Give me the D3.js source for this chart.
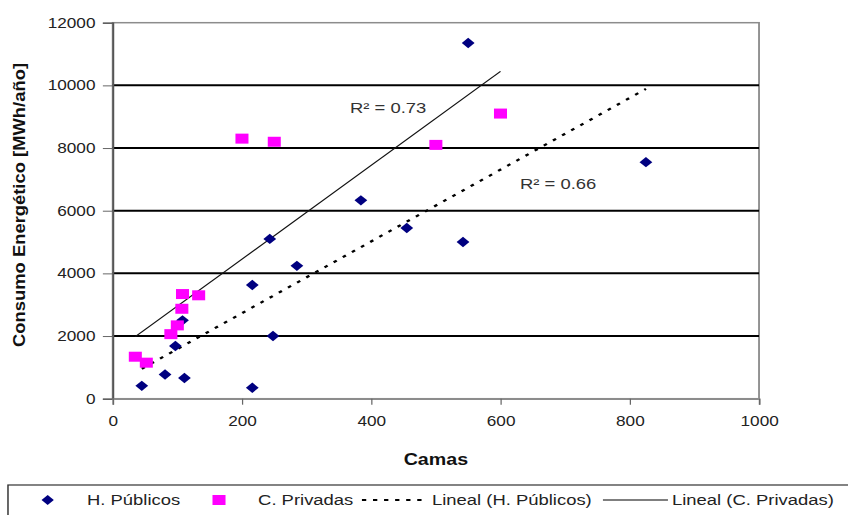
<!DOCTYPE html>
<html>
<head>
<meta charset="utf-8">
<title>Consumo Energético vs Camas</title>
<script src="https://cdn.jsdelivr.net/npm/d3@7/dist/d3.min.js"></script>
<style>
  body { margin: 0; background: #fff; }
  svg { display: block; font-family: "Liberation Sans", Arial, sans-serif; }
</style>
</head>
<body>
<script>
// H. Públicos (diamonds)
var camasPublicos   = [550, 384, 243, 455, 542, 285, 216, 108, 248, 97, 81, 111, 45, 216, 825];
var consumoPublicos = [11350, 6330, 5100, 5450, 5000, 4240, 3630, 2500, 2000, 1680, 770, 660, 410, 350, 7550];
// C. Privadas (squares)
var camasPrivadas   = [200, 250, 500, 600, 108, 133, 107, 100, 90, 35, 52];
var consumoPrivadas = [8300, 8200, 8100, 9100, 3340, 3300, 2870, 2340, 2060, 1340, 1150];
// linear trend lines: [slope, intercept, xStart, xEnd]
var trendPublicos = [11.45, 440, 45, 825];
var trendPrivadas = [14.98, 1457, 35, 600];
var r2Labels = ["R\u00B2 = 0.73", "R\u00B2 = 0.66"];
var xTicks = [0, 200, 400, 600, 800, 1000];
var yTicks = [0, 2000, 4000, 6000, 8000, 10000, 12000];
var legendNames = ["H. Públicos", "C. Privadas", "Lineal (H. Públicos)", "Lineal (C. Privadas)"];

// the original picture is stretched sideways, so draw in a narrower box and stretch it
var W = 690, H = 515;
var svg = d3.select("body").append("svg")
    .attr("width", 848).attr("height", 515)
    .attr("viewBox", "0 0 " + W + " " + H)
    .attr("preserveAspectRatio", "none");

var pLeft = 91.7, pRight = 617.6, pTop = 22.7, pBottom = 398.7;
var x = d3.scaleLinear().domain([0, 1000]).range([pLeft, pRight]);
var y = d3.scaleLinear().domain([0, 12000]).range([pBottom, pTop]);

// plot frame (grey top/right)
svg.append("rect")
    .attr("x", pLeft).attr("y", pTop)
    .attr("width", pRight - pLeft).attr("height", pBottom - pTop)
    .attr("fill", "#fff").attr("stroke", "#8c8c8c").attr("stroke-width", 1.5);

// thick black gridlines
svg.selectAll("line.grid")
    .data(yTicks.filter(function(d){ return d > 0 && d < 12000; }))
    .enter().append("line")
    .attr("class", "grid")
    .attr("x1", pLeft).attr("x2", pRight)
    .attr("y1", function(d){ return y(d); })
    .attr("y2", function(d){ return y(d); })
    .attr("stroke", "#000").attr("stroke-width", 2);

// axes
var yAxis = d3.axisLeft(y).tickValues(yTicks).tickSize(8).tickPadding(6).tickFormat(d3.format("d"));
var xAxis = d3.axisBottom(x).tickValues(xTicks).tickSize(6).tickPadding(11).tickFormat(d3.format("d"));

var gy = svg.append("g").attr("transform", "translate(" + pLeft + ",0)").call(yAxis);
var gx = svg.append("g").attr("transform", "translate(0," + pBottom + ")").call(xAxis);

[gx, gy].forEach(function(g){
    g.select(".domain").attr("stroke", "#555").attr("stroke-width", 1.5);
    g.selectAll(".tick line").attr("stroke", "#666").attr("stroke-width", 1);
    g.selectAll(".tick text")
        .attr("font-size", 14)
        .attr("font-family", "Liberation Sans, Arial, sans-serif")
        .attr("fill", "#222");
});
gx.select(".domain").attr("stroke", "#8c8c8c");

// trend lines
var line = d3.line().x(function(d){ return x(d[0]); }).y(function(d){ return y(d[1]); });
function trendPts(t){ return [[t[2], t[0] * t[2] + t[1]], [t[3], t[0] * t[3] + t[1]]]; }

svg.append("path")
    .attr("d", line(trendPts(trendPrivadas)))
    .attr("fill", "none").attr("stroke", "#111").attr("stroke-width", 1.1);

svg.append("path")
    .attr("d", line(trendPts(trendPublicos)))
    .attr("fill", "none").attr("stroke", "#000").attr("stroke-width", 2.2)
    .attr("stroke-dasharray", "3,6");

// points
var diamond = function(cx, cy, r){
    return "M" + cx + "," + (cy - r) + "L" + (cx + r) + "," + cy + "L" + cx + "," + (cy + r) + "L" + (cx - r) + "," + cy + "Z";
};

svg.selectAll("path.pub")
    .data(camasPublicos)
    .enter().append("path")
    .attr("class", "pub")
    .attr("d", function(d, i){ return diamond(x(d), y(consumoPublicos[i]), 5.2); })
    .attr("fill", "#000080");

svg.selectAll("rect.priv")
    .data(camasPrivadas)
    .enter().append("rect")
    .attr("class", "priv")
    .attr("x", function(d){ return x(d) - 5.3; })
    .attr("y", function(d, i){ return y(consumoPrivadas[i]) - 5; })
    .attr("width", 10.6).attr("height", 10)
    .attr("fill", "#ff00ff");

// R² labels
svg.append("text").attr("x", 350 / 1.229).attr("y", 113).text(r2Labels[0])
    .attr("font-size", 15).attr("fill", "#333");
svg.append("text").attr("x", 520 / 1.229).attr("y", 189).text(r2Labels[1])
    .attr("font-size", 15).attr("fill", "#333");

// axis titles
svg.append("text")
    .attr("x", (pLeft + pRight) / 2).attr("y", 465)
    .attr("text-anchor", "middle")
    .attr("font-size", 16).attr("font-weight", "bold").attr("fill", "#111")
    .text("Camas");

svg.append("text")
    .attr("transform", "translate(20,205) rotate(-90)")
    .attr("text-anchor", "middle")
    .attr("font-size", 14).attr("font-weight", "bold").attr("fill", "#111")
    .attr("textLength", 284).attr("lengthAdjust", "spacingAndGlyphs")
    .text("Consumo Energético [MWh/año]");

// legend
var lg = svg.append("g");
lg.append("rect")
    .attr("x", 6.5).attr("y", 485).attr("width", W).attr("height", 40)
    .attr("fill", "#fff").attr("stroke", "#333").attr("stroke-width", 1.2);

var ly = 500;
lg.append("path").attr("d", diamond(38.8, ly, 5)).attr("fill", "#000080");
lg.append("rect").attr("x", 178.2 - 5.3).attr("y", ly - 5).attr("width", 10.6).attr("height", 10).attr("fill", "#ff00ff");
lg.append("line").attr("x1", 294.5).attr("x2", 348.2).attr("y1", ly).attr("y2", ly)
    .attr("stroke", "#000").attr("stroke-width", 2).attr("stroke-dasharray", "3.5,5.5");
lg.append("line").attr("x1", 490.6).attr("x2", 543.5).attr("y1", ly).attr("y2", ly)
    .attr("stroke", "#000").attr("stroke-width", 1.2);

var lx = [70.8, 210, 351.5, 546.8];
lg.selectAll("text.leg")
    .data(legendNames)
    .enter().append("text")
    .attr("class", "leg")
    .attr("x", function(d, i){ return lx[i]; })
    .attr("y", ly + 5)
    .attr("font-size", 15).attr("fill", "#222")
    .text(function(d){ return d; });
</script>
</body>
</html>
